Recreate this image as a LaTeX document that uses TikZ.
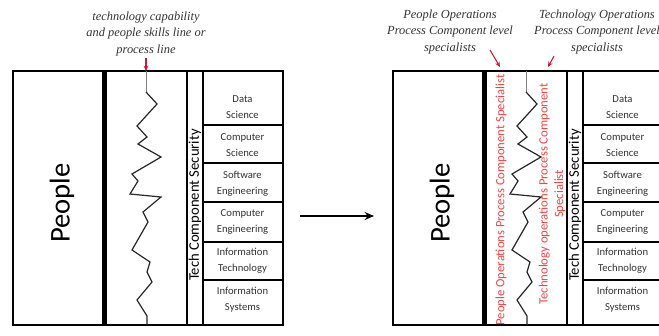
\documentclass[tikz,border=0pt]{standalone}
\usepackage{fontspec}
\setmainfont{Carlito}
\newfontfamily\capfont{Liberation Serif}
\usetikzlibrary{arrows.meta}
\definecolor{redtxt}{RGB}{238,70,70}
\definecolor{arrred}{RGB}{190,30,60}
\begin{document}
\begin{tikzpicture}[x=0.75pt,y=-0.75pt,
  outer/.style={draw=black,line width=1.6pt},
  thickdiv/.style={line width=3.4pt},
  coldiv/.style={line width=1.5pt},
  rowdiv/.style={line width=1.3pt},
  peopletxt/.style={rotate=90,font=\fontsize{21.5}{24}\selectfont},
  sectxt/.style={rotate=90,font=\fontsize{11}{13}\selectfont},
  domtxt/.style={align=center,font=\fontsize{8}{11.8}\selectfont,text=black!80},
  captxt/.style={align=center,font=\capfont\itshape\fontsize{9.3}{12.2}\selectfont,text=black!80},
  redlbl/.style={rotate=90,align=center,text=redtxt,font=\fontsize{9.5}{11.5}\selectfont},
  zig/.style={line width=0.9pt,black!85,line join=miter},
  zigtop/.style={line width=0.5pt,black!50},
  redarrow/.style={arrred,line width=0.8pt,-{Stealth[length=4pt,width=3.5pt]}},
  mainarrow/.style={line width=1.6pt,-{Stealth[length=7pt,width=6pt]}}]
\useasboundingbox (0,0) rectangle (659,335);
\clip (0,0) rectangle (659,335);

\foreach \d/\s in {0/L,380/R}{
\begin{scope}[shift={(\d,0)}]
  \draw[outer] (13,71) rectangle (283,325);
  \draw[thickdiv] (104.5,71) -- (104.5,325);
  \draw[coldiv] (187,71) -- (187,325);
  \draw[coldiv] (202.5,71) -- (202.5,325);
  \foreach \yy in {125,163,202,242,280}{
    \draw[rowdiv] (202.5,\yy) -- (283,\yy);
  }
  \node[peopletxt] (people\s) at (62,203) {People};
  \node[sectxt] (sec\s) at (195,205) {Tech Component Security};
  \node[domtxt] (ds\s) at (242.5,107) {Data\\Science};
  \node[domtxt] (cs\s) at (242.5,145) {Computer\\Science};
  \node[domtxt] (se\s) at (242.5,184) {Software\\Engineering};
  \node[domtxt] (ce\s) at (242.5,222) {Computer\\Engineering};
  \node[domtxt] (it\s) at (242.5,261) {Information\\Technology};
  \node[domtxt] (is\s) at (242.5,300) {Information\\Systems};
  \coordinate (top\s) at (146,71);
\end{scope}
}

% red labels in the right diagram
\node[redlbl] (opR) at (501,200) {People Operations Process Component Specialist};
\node[redlbl] (toR) at (552,194) {Technology operations Process Component\\Specialist};

% zigzag lines
\foreach \d in {0,380}{
\begin{scope}[shift={(\d,0)}]
  \draw[zigtop] (146,71) -- (146,92);
  \draw[zig] (146,92) -- (157,104) -- (137,126) -- (147,137) -- (138,144)
    -- (161,157) -- (132,174) -- (138,181) -- (130,194) -- (161,197)
    -- (143,212) -- (148,222) -- (132,250) -- (150,262) -- (147,272)
    -- (152,282) -- (137,300) -- (147,316) -- (147,325);
\end{scope}
}

% captions
\node[captxt] (capL) at (146,34) {technology capability\\and people skills line or\\process line};
\node[captxt] (capP) at (450,32) {People Operations\\Process Component level\\specialists};
\node[captxt] (capT) at (597,32) {Technology Operations\\Process Component level\\specialists};

% caption arrows
\coordinate (aL) at (146,58);
\draw[redarrow] (aL) -- (topL);
\coordinate (aP1) at (490,50);
\coordinate (aP2) at (500,67);
\draw[redarrow] (aP1) -- (aP2);
\coordinate (aT1) at (554,56);
\coordinate (aT2) at (548,67);
\draw[redarrow] (aT1) -- (aT2);

% main arrow
\coordinate (arrS) at (300,216);
\coordinate (arrE) at (374,216);
\draw[mainarrow] (arrS) -- (arrE);
\end{tikzpicture}
\end{document}
